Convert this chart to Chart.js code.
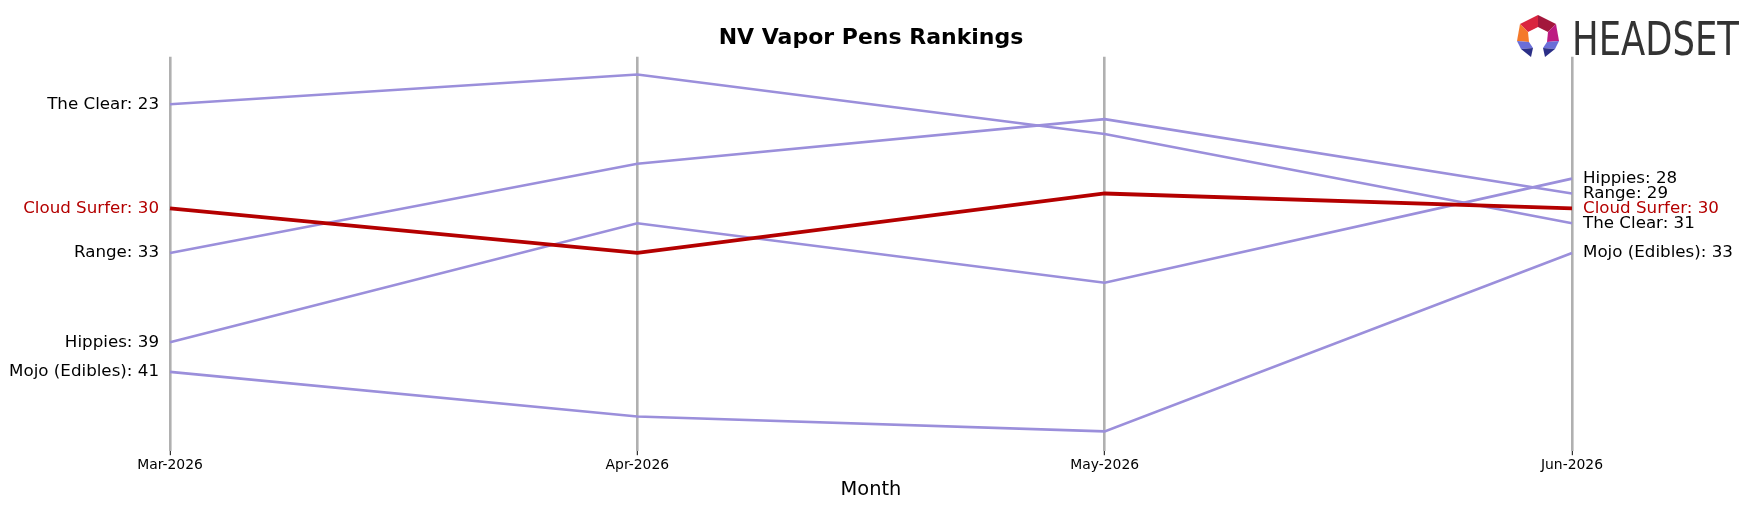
<!DOCTYPE html>
<html>
<head>
<meta charset="utf-8">
<script src="https://cdn.jsdelivr.net/npm/chart.js@4"></script>
<style>
  html, body { margin: 0; padding: 0; background: #fff; }
  #wrap { width: 1755px; height: 507px; }
</style>
</head>
<body>
<div id="wrap"><canvas id="c" width="1755" height="507"></canvas></div>
<script>
const months = ["Mar-2026", "Apr-2026", "May-2026", "Jun-2026"];
const cloudSurfer = [30, 33, 29, 30];
const theClear = [23, 21, 25, 31];
const range = [33, 27, 24, 29];
const hippies = [39, 31, 35, 28];
const mojoEdibles = [41, 44, 45, 33];
const seriesNames = ["Cloud Surfer", "The Clear", "Range", "Hippies", "Mojo (Edibles)"];
const seriesValues = [cloudSurfer, theClear, range, hippies, mojoEdibles];
const highlight = "Cloud Surfer";
const chartTitle = "NV Vapor Pens Rankings";
const xTitle = "Month";

const FONT = "'DejaVu Sans', 'Liberation Sans', sans-serif";
const RED = "#b40000";
const PURPLE = "#9b8fdb";

const datasets = seriesNames.map((name, i) => ({
  label: name,
  data: seriesValues[i],
  borderColor: name === highlight ? RED : PURPLE,
  borderWidth: name === highlight ? 3.8 : 2.6,
  pointRadius: 0,
  tension: 0,
  fill: false
}));

const endLabels = {
  id: 'endLabels',
  afterDatasetsDraw(chart) {
    const ctx = chart.ctx;
    const ys = chart.scales.y;
    const area = chart.chartArea;
    ctx.save();
    ctx.font = "16.7px " + FONT;
    ctx.textBaseline = 'middle';
    chart.data.datasets.forEach(ds => {
      const col = ds.label === highlight ? RED : '#000';
      ctx.fillStyle = col;
      const first = ds.data[0];
      const last = ds.data[ds.data.length - 1];
      ctx.textAlign = 'right';
      ctx.fillText(ds.label + ": " + first, area.left - 11, ys.getPixelForValue(first));
      ctx.textAlign = 'left';
      ctx.fillText(ds.label + ": " + last, area.right + 11, ys.getPixelForValue(last));
    });
    ctx.restore();
  }
};

const logo = {
  id: 'logo',
  afterDraw(chart) {
    const ctx = chart.ctx;
    ctx.save();
    const poly = (pts, color) => {
      ctx.beginPath();
      ctx.moveTo(pts[0][0], pts[0][1]);
      for (let i = 1; i < pts.length; i++) ctx.lineTo(pts[i][0], pts[i][1]);
      ctx.closePath();
      ctx.fillStyle = color;
      ctx.fill();
    };
    const OT = [1538, 15], OUL = [1520, 24], OUR = [1556, 24], OL = [1517, 41], OR = [1559, 41];
    const IT = [1538, 27], IUL = [1528, 32], IUR = [1548, 32], IL = [1529, 42], IR = [1547, 42];
    poly([OT, IT, IUL, OUL], '#d9253f');
    poly([OT, OUR, IUR, IT], '#a3173c');
    poly([OUR, OR, IR, IUR], '#bd1a82');
    poly([OUL, IUL, IL, OL], '#f4792a');
    poly([OL, IL, [1533, 48], [1521, 49]], '#6a6ed8');
    poly([[1521, 49], [1533, 48], [1531, 57]], '#2b2f87');
    poly([OR, IR, [1543, 48], [1555, 49]], '#6a6ed8');
    poly([[1555, 49], [1543, 48], [1545, 57]], '#2b2f87');
    ctx.font = "500 46.6px " + FONT;
    ctx.fillStyle = '#333333';
    ctx.textBaseline = 'alphabetic';
    ctx.textAlign = 'left';
    const w = ctx.measureText("HEADSET").width;
    ctx.translate(1572, 55);
    ctx.scale(167 / w, 1);
    ctx.fillText("HEADSET", 0, 0);
    ctx.restore();
  }
};

new Chart(document.getElementById('c'), {
  type: 'line',
  data: { labels: months, datasets },
  options: {
    responsive: false,
    devicePixelRatio: 1,
    animation: false,
    layout: { padding: { left: 170, right: 183, top: 0, bottom: 0 } },
    plugins: {
      legend: { display: false },
      tooltip: { enabled: false },
      title: {
        display: true,
        text: chartTitle,
        color: '#000',
        font: { family: FONT, size: 22, weight: 'bold' },
        padding: { top: 25.5, bottom: 4.8 }
      }
    },
    scales: {
      x: {
        type: 'category',
        offset: false,
        border: { display: false },
        grid: {
          color: '#b0b0b0',
          lineWidth: 2.6,
          drawTicks: true,
          tickLength: 4.5,
          tickColor: '#000',
          tickWidth: 1
        },
        ticks: { color: '#000', font: { family: FONT, size: 13.9 }, padding: 1.5, maxRotation: 0 },
        title: {
          display: true,
          text: xTitle,
          color: '#000',
          font: { family: FONT, size: 19.4 },
          padding: { top: 3.74, bottom: 5.1 }
        }
      },
      y: {
        display: false,
        reverse: true,
        min: 19.8,
        max: 46.3
      }
    }
  },
  plugins: [endLabels, logo]
});
</script>
</body>
</html>
